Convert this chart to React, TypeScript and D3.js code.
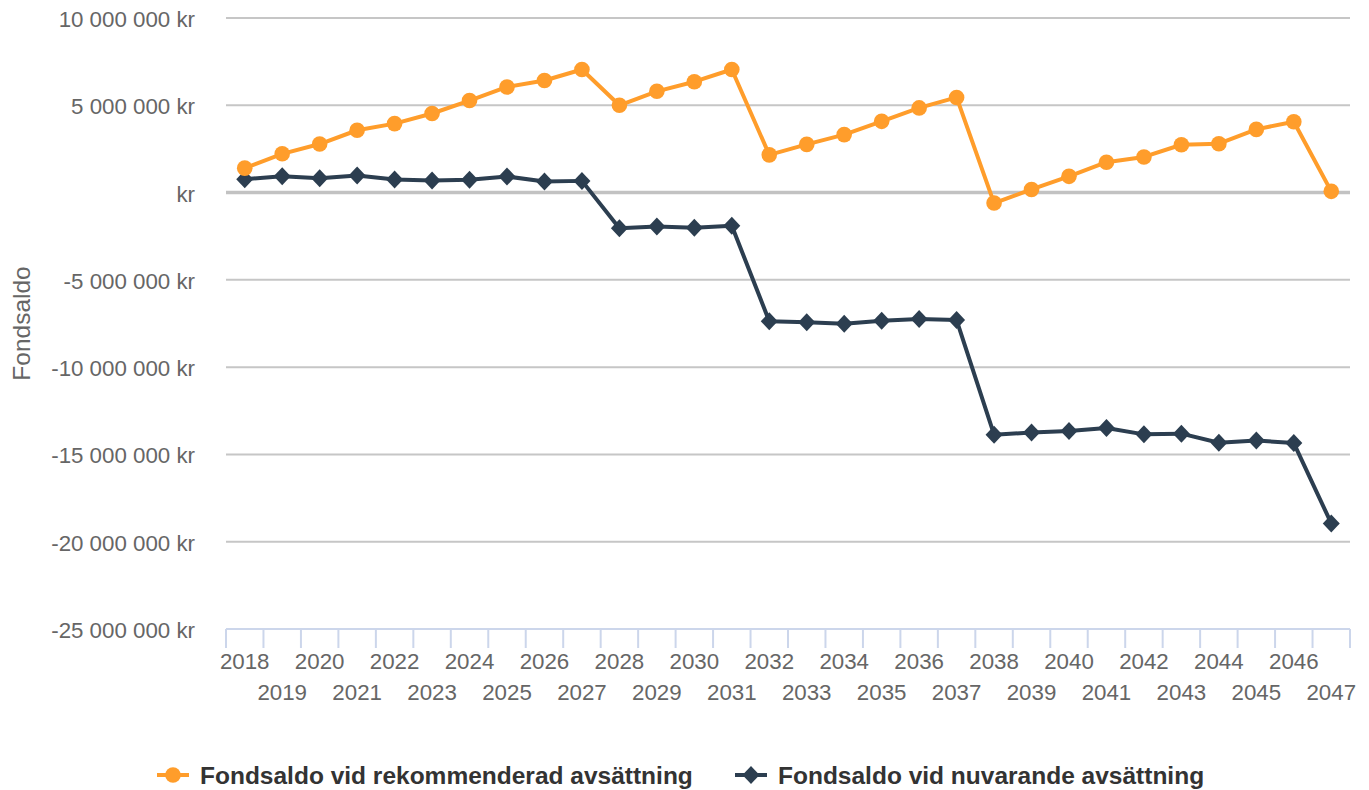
import React, { useEffect, useRef } from "react";
import * as d3 from "d3";

const years: string[] = [
  "2018", "2019", "2020", "2021", "2022", "2023", "2024", "2025", "2026", "2027",
  "2028", "2029", "2030", "2031", "2032", "2033", "2034", "2035", "2036", "2037",
  "2038", "2039", "2040", "2041", "2042", "2043", "2044", "2045", "2046", "2047",
];

// Fondsaldo vid rekommenderad avsättning (kr)
const recommended: number[] = [
  1400000, 2220000, 2780000, 3570000, 3950000, 4530000, 5270000, 6050000, 6420000, 7050000,
  5000000, 5800000, 6350000, 7050000, 2160000, 2760000, 3320000, 4080000, 4850000, 5450000,
  -600000, 180000, 930000, 1740000, 2040000, 2740000, 2800000, 3620000, 4060000, 70000,
];

// Fondsaldo vid nuvarande avsättning (kr)
const current: number[] = [
  760000, 940000, 820000, 980000, 750000, 690000, 740000, 920000, 640000, 670000,
  -2050000, -1950000, -2020000, -1900000, -7370000, -7430000, -7520000, -7340000, -7240000, -7300000,
  -13870000, -13750000, -13660000, -13490000, -13850000, -13810000, -14330000, -14200000, -14350000, -18950000,
];

const yTicks: number[] = [10000000, 5000000, 0, -5000000, -10000000, -15000000, -20000000, -25000000];

const seriesNames = [
  "Fondsaldo vid rekommenderad avsättning",
  "Fondsaldo vid nuvarande avsättning",
];
const ORANGE = "#ff9d2b";
const DARK = "#2c3e50";

const App: React.FC = () => {
  const svgRef = useRef<SVGSVGElement | null>(null);

  useEffect(() => {
    if (!svgRef.current) return;
    const width = 1369;
    const height = 790;
    const plot = { left: 226, right: 1350, top: 18, bottom: 629 };

    const svg = d3.select(svgRef.current);
    svg.selectAll("*").remove();
    svg.attr("width", width).attr("height", height);

    const x = d3.scaleBand().domain(years).range([plot.left, plot.right]).padding(0);
    const y = d3.scaleLinear().domain([-25000000, 10000000]).range([plot.bottom, plot.top]);
    const cx = (d: string) => (x(d) as number) + x.bandwidth() / 2;

    const locale = d3.formatLocale({
      decimal: ",",
      thousands: " ",
      grouping: [3],
      currency: ["", " kr"],
      minus: "-",
    });
    const fmt = locale.format(",.0f");
    const label = (v: number) => (v === 0 ? "kr" : fmt(v) + " kr");

    const font = "'Liberation Sans', Arial, Helvetica, sans-serif";

    // grid lines
    svg.append("g")
      .selectAll("line")
      .data(yTicks.filter(t => t !== 0 && t !== -25000000))
      .enter()
      .append("line")
      .attr("x1", plot.left)
      .attr("x2", plot.right)
      .attr("y1", d => y(d))
      .attr("y2", d => y(d))
      .attr("stroke", "#c6c6c6")
      .attr("stroke-width", 2);

    // zero line
    svg.append("line")
      .attr("x1", plot.left)
      .attr("x2", plot.right)
      .attr("y1", y(0))
      .attr("y2", y(0))
      .attr("stroke", "#c2c2c2")
      .attr("stroke-width", 3.5);

    // y labels
    svg.append("g")
      .selectAll("text")
      .data(yTicks)
      .enter()
      .append("text")
      .attr("x", 195)
      .attr("y", d => y(d) + 9)
      .attr("text-anchor", "end")
      .attr("font-family", font)
      .attr("font-size", 22.3)
      .attr("fill", "#666666")
      .text(d => label(d));

    // y title
    svg.append("text")
      .attr("transform", `translate(30, ${(plot.top + plot.bottom) / 2}) rotate(-90)`)
      .attr("text-anchor", "middle")
      .attr("font-family", font)
      .attr("font-size", 24.5)
      .attr("fill", "#666666")
      .text("Fondsaldo");

    // x axis
    svg.append("line")
      .attr("x1", plot.left)
      .attr("x2", plot.right)
      .attr("y1", plot.bottom)
      .attr("y2", plot.bottom)
      .attr("stroke", "#ccd6eb")
      .attr("stroke-width", 2);

    const tickPos = years.map(d => x(d) as number).concat([plot.right]);
    svg.append("g")
      .selectAll("line")
      .data(tickPos)
      .enter()
      .append("line")
      .attr("x1", d => d)
      .attr("x2", d => d)
      .attr("y1", plot.bottom)
      .attr("y2", plot.bottom + 19)
      .attr("stroke", "#ccd6eb")
      .attr("stroke-width", 2);

    svg.append("g")
      .selectAll("text")
      .data(years)
      .enter()
      .append("text")
      .attr("x", d => cx(d))
      .attr("y", (d, i) => (i % 2 === 0 ? 669 : 700))
      .attr("text-anchor", "middle")
      .attr("font-family", font)
      .attr("font-size", 22.3)
      .attr("fill", "#666666")
      .text(d => d);

    const line = d3.line<number>()
      .x((d, i) => cx(years[i]))
      .y(d => y(d));

    const diamond = (px: number, py: number, r: number) =>
      `M${px},${py - r - 0.5}L${px + r},${py}L${px},${py + r + 0.5}L${px - r},${py}Z`;

    // current series (dark, diamonds)
    svg.append("path")
      .datum(current)
      .attr("d", line)
      .attr("fill", "none")
      .attr("stroke", DARK)
      .attr("stroke-width", 4)
      .attr("stroke-linejoin", "round");
    svg.append("g")
      .selectAll("path")
      .data(current)
      .enter()
      .append("path")
      .attr("d", (d, i) => diamond(cx(years[i]), y(d), 8.5))
      .attr("fill", DARK);

    // recommended series (orange, circles)
    svg.append("path")
      .datum(recommended)
      .attr("d", line)
      .attr("fill", "none")
      .attr("stroke", ORANGE)
      .attr("stroke-width", 4)
      .attr("stroke-linejoin", "round");
    svg.append("g")
      .selectAll("circle")
      .data(recommended)
      .enter()
      .append("circle")
      .attr("cx", (d, i) => cx(years[i]))
      .attr("cy", d => y(d))
      .attr("r", 7.8)
      .attr("fill", ORANGE);

    // legend
    const legendY = 775;
    const items = [
      { name: seriesNames[0], color: ORANGE, x0: 157, shape: "circle" },
      { name: seriesNames[1], color: DARK, x0: 735, shape: "diamond" },
    ];
    items.forEach(it => {
      const g = svg.append("g");
      g.append("line")
        .attr("x1", it.x0)
        .attr("x2", it.x0 + 32)
        .attr("y1", legendY)
        .attr("y2", legendY)
        .attr("stroke", it.color)
        .attr("stroke-width", 4);
      if (it.shape === "circle") {
        g.append("circle").attr("cx", it.x0 + 16).attr("cy", legendY).attr("r", 7.8).attr("fill", it.color);
      } else {
        g.append("path").attr("d", diamond(it.x0 + 16, legendY, 8.5)).attr("fill", it.color);
      }
      g.append("text")
        .attr("x", it.x0 + 43)
        .attr("y", legendY + 8.5)
        .attr("font-family", font)
        .attr("font-size", 24.5)
        .attr("font-weight", "bold")
        .attr("fill", "#333333")
        .text(it.name);
    });
  }, []);

  return (
    <div style={{ position: "absolute", left: 0, top: 0 }}>
      <svg ref={svgRef}></svg>
    </div>
  );
};

export default App;
